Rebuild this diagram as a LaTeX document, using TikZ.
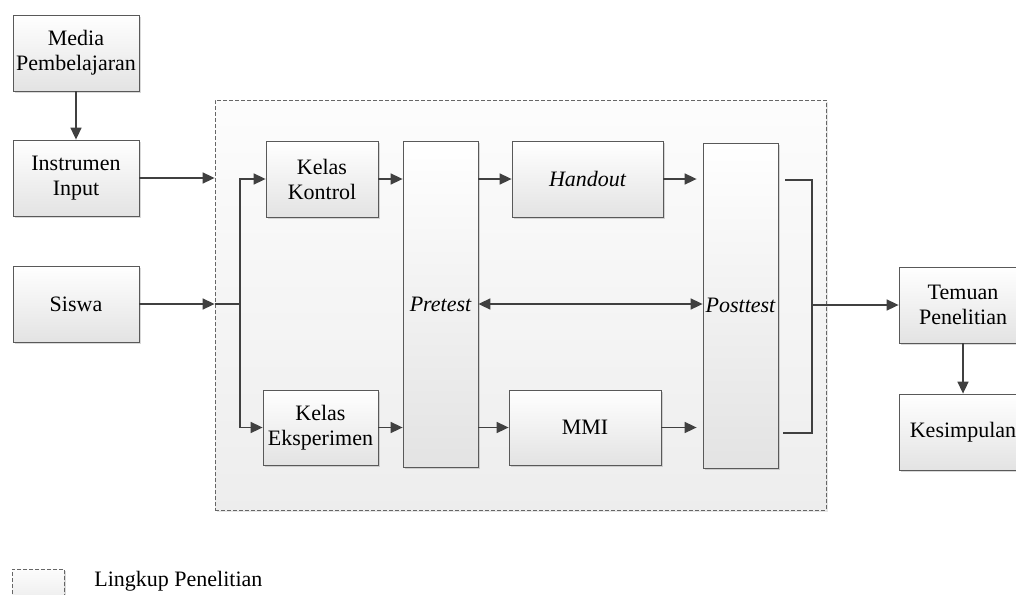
\documentclass[tikz,border=0pt]{standalone}
\usepackage{fontspec}
\setmainfont{Liberation Serif}
\usetikzlibrary{arrows.meta,shadows}
\tikzstyle{every node}=[font=\fontsize{11}{12.5}\selectfont,align=center,inner sep=1pt]
\tikzstyle{box}=[draw=black!65,top color=white,bottom color=black!11,
    drop shadow={shadow xshift=1pt,shadow yshift=-1pt,opacity=.3},
    minimum width=63pt,minimum height=38pt]
\tikzstyle{tallbox}=[box,minimum width=37.5pt,minimum height=163pt]
\tikzstyle{scopebox}=[draw=black!60,dash pattern=on 2pt off 1pt,top color=black!1,bottom color=black!7,
    drop shadow={shadow xshift=1pt,shadow yshift=-1pt,opacity=.2}]
\tikzstyle{line}=[draw=black!75,line width=0.8pt]
\tikzstyle{arr}=[line,-{Triangle[length=6pt,width=5.5pt]}]
\tikzstyle{arrs}=[line,{Triangle[length=6pt,width=5.5pt]}-{Triangle[length=6pt,width=5.5pt]}]

\begin{document}
\begin{tikzpicture}[x=0.5pt,y=-0.5pt]
        \useasboundingbox (0,0) rectangle (1016,594);
        % lingkup penelitian
        \node[scopebox,minimum width=305.5pt,minimum height=205pt] (scope) at (520.5,305) {};
        % masukan
        \node[box] (media) at (76,53) {Media\\Pembelajaran};
        \node[box] (instr) at (76,178) {Instrumen\\Input};
        \node[box] (siswa) at (76,304) {Siswa};
        % kelas
        \node[box,minimum width=56pt] (kontrol) at (322,179) {Kelas\\Kontrol};
        \node[box,minimum width=57.5pt,minimum height=37.5pt] (eksp) at (320.5,427.5) {Kelas\\Eksperimen};
        \node[tallbox] (pretest) at (440.5,304) {\itshape Pretest};
        \node[box,minimum width=75.5pt] (handout) at (587.5,179) {\itshape Handout};
        \node[box,minimum width=76pt,minimum height=37.5pt] (mmi) at (585,427.5) {MMI};
        \node[tallbox,minimum height=162.5pt] (posttest) at (740.5,305.5) {\itshape Posttest};
        % hasil
        \node[box,minimum width=64pt] (temuan) at (963,305) {Temuan\\Penelitian};
        \node[box,minimum width=64pt] (simpul) at (963,432) {Kesimpulan};
        % keterangan
        \node[box,draw=black!60,dash pattern=on 2pt off 1pt,top color=black!1,bottom color=black!7,
            minimum width=26pt,minimum height=15.5pt] (legend) at (38,584.5) {};
        \node[anchor=west] (legtext) at (92,581) {Lingkup Penelitian};

        \coordinate (jmid) at (240,304);
        \coordinate (b1) at (785,180);
        \coordinate (b2) at (812,180);
        \coordinate (b3) at (812,433);
        \coordinate (b4) at (783,433);

        \draw[arr] (media) -- (instr);
        \draw[arr] (instr) -- (instr -| scope.west);
        \draw[arr] (siswa) -- (siswa -| scope.west);
        \draw[line] (siswa -| scope.west) -- (jmid);
        \draw[arr] (jmid) |- (kontrol.west);
        \draw[arr] (jmid) |- (eksp.west);
        \draw[arr] (kontrol) -- (kontrol -| pretest.west);
        \draw[arr] (eksp) -- (eksp -| pretest.west);
        \draw[arr] (handout -| pretest.east) -- (handout);
        \draw[arr] (mmi -| pretest.east) -- (mmi);
        \draw[arr,shorten >=3pt] (handout) -- (handout -| posttest.west);
        \draw[arr,shorten >=3pt] (mmi) -- (mmi -| posttest.west);
        \draw[arrs] (pretest) -- (pretest -| posttest.west);
        \draw[line] (b1) -- (b2) -- (b3) -- (b4);
        \draw[arr] (b2 |- temuan) -- (temuan);
        \draw[arr] (temuan) -- (simpul);
\end{tikzpicture}
\end{document}
